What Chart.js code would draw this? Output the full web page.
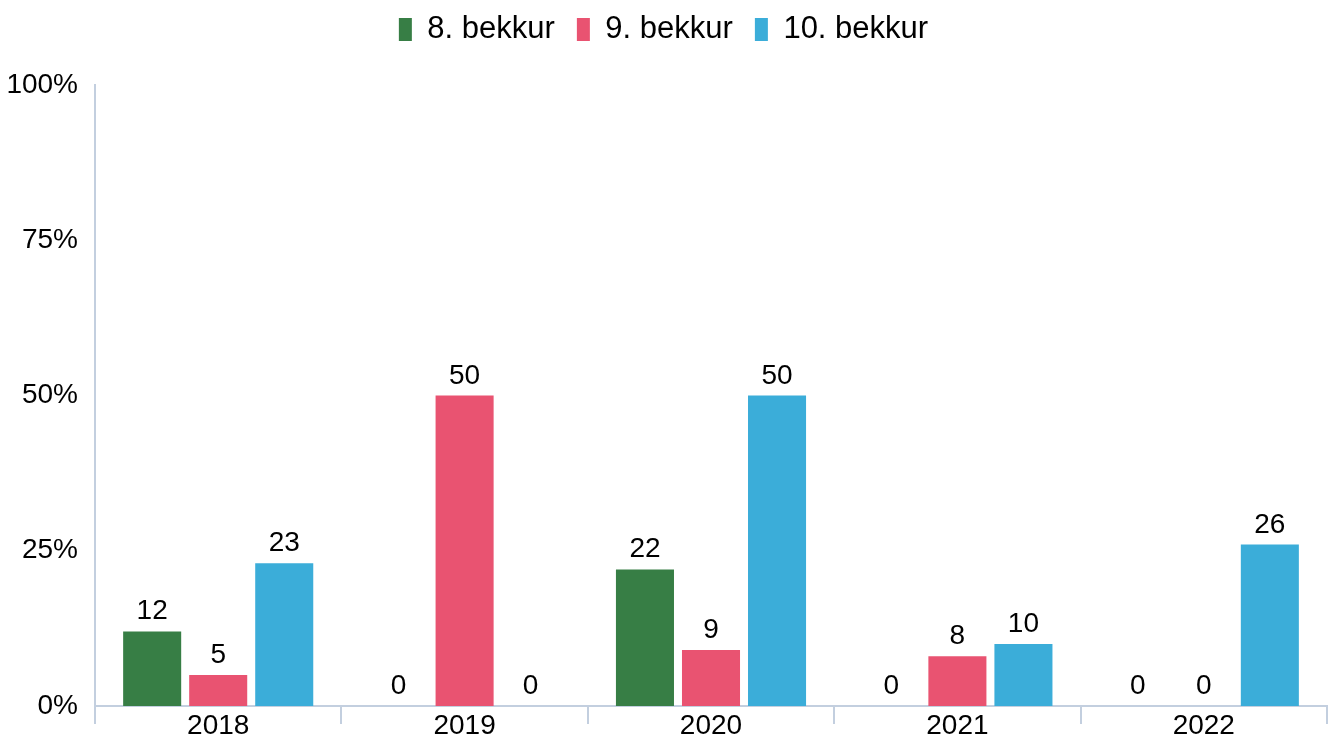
<!DOCTYPE html>
<html>
<head>
<meta charset="utf-8">
<script src="https://cdn.jsdelivr.net/npm/chart.js@4"></script>
<style>
  html, body { margin: 0; padding: 0; background: #fff; }
  #wrap { width: 1337px; height: 736px; position: relative; }
</style>
</head>
<body>
<div id="wrap"><canvas id="chart"></canvas></div>
<script>
// Data
const years = ['2018', '2019', '2020', '2021', '2022'];
const grade8 = [12, 0, 22, 0, 0];
const grade9 = [5, 50, 9, 8, 0];
const grade10 = [23, 0, 50, 10, 26];
const seriesNames = ['8. bekkur', '9. bekkur', '10. bekkur'];
const yTicks = [0, 25, 50, 75, 100];

const colors = ['#377e45', '#e95371', '#3badd9'];
const axisColor = '#c3cfdf';
const FONT = '"Liberation Sans", Arial, sans-serif';

// draw the value above each bar
const valueLabels = {
  id: 'valueLabels',
  afterDatasetsDraw(chart) {
    const ctx = chart.ctx;
    ctx.save();
    ctx.font = '28px ' + FONT;
    ctx.fillStyle = '#000';
    ctx.textAlign = 'center';
    ctx.textBaseline = 'alphabetic';
    chart.data.datasets.forEach((ds, i) => {
      const meta = chart.getDatasetMeta(i);
      meta.data.forEach((bar, j) => {
        ctx.fillText(String(ds.data[j]), bar.x, bar.y - 12);
      });
    });
    ctx.restore();
  }
};

// extra room between legend and plot
const legendMargin = {
  id: 'legendMargin',
  beforeInit(chart) {
    const fit = chart.legend.fit;
    chart.legend.fit = function() {
      fit.bind(chart.legend)();
      this.height += 30;
    };
  }
};

const series = [grade8, grade9, grade10];

new Chart(document.getElementById('chart'), {
  type: 'bar',
  data: {
    labels: years,
    datasets: series.map((d, i) => ({
      label: seriesNames[i],
      data: d,
      backgroundColor: colors[i],
      borderWidth: 0,
      categoryPercentage: 0.804,
      barPercentage: 0.879,
    })),
  },
  plugins: [valueLabels, legendMargin],
  options: {
    responsive: true,
    maintainAspectRatio: false,
    animation: false,
    devicePixelRatio: 1,
    layout: { padding: { left: 0, right: 10, top: -8, bottom: 0 } },
    scales: {
      x: {
        afterFit: s => { s.height = 30; s.paddingLeft = 0; s.paddingRight = 0; },
        grid: {
          display: true,
          drawOnChartArea: false,
          drawTicks: true,
          tickLength: 18,
          color: axisColor,
          lineWidth: 2,
          offset: true,
        },
        border: { display: true, color: axisColor, width: 2 },
        ticks: { color: '#000', font: { family: FONT, size: 28 }, padding: -15 },
      },
      y: {
        min: 0,
        max: 100,
        afterFit: s => { s.width = 95; s.paddingTop = 0; s.paddingBottom = 0; },
        afterBuildTicks: axis => { axis.ticks = yTicks.map(v => ({ value: v })); },
        grid: { display: false, drawTicks: false },
        border: { display: true, color: axisColor, width: 2 },
        ticks: {
          color: '#000',
          font: { family: FONT, size: 28 },
          padding: 17,
          callback: v => v + '%',
        },
      },
    },
    plugins: {
      legend: {
        position: 'top',
        labels: {
          color: '#000',
          font: { family: FONT, size: 31 },
          boxWidth: 13,
          boxHeight: 23,
          padding: 22,
        },
      },
      tooltip: { enabled: false },
    },
  },
});
</script>
</body>
</html>
